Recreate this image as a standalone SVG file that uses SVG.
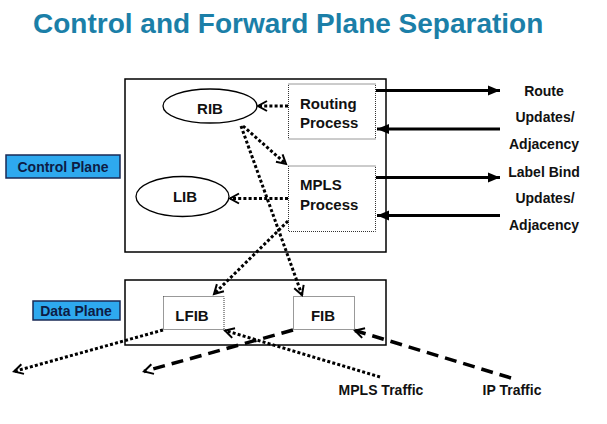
<svg xmlns="http://www.w3.org/2000/svg" width="607" height="424" viewBox="0 0 607 424">
  <defs>
    <marker id="open" markerUnits="userSpaceOnUse" markerWidth="16" markerHeight="16" viewBox="-13 -8 16 16" refX="0" refY="0" orient="auto">
      <path d="M-9,-5 L0,0 L-9,5" fill="none" stroke="#000" stroke-width="2" stroke-dasharray="none"/>
    </marker>
    <marker id="solid" markerUnits="userSpaceOnUse" markerWidth="16" markerHeight="16" viewBox="-14 -8 16 16" refX="0" refY="0" orient="auto">
      <path d="M-12,-5 L0,0 L-12,5 Z" fill="#000" stroke="none"/>
    </marker>
  </defs>
  <style>
    text { font-family: "Liberation Sans", Arial, sans-serif; font-weight: bold; fill: #111; }
    .title { font-size: 28px; fill: #1b7fa8; }
    .lbl { font-size: 14px; fill: #0d1c45; text-anchor: middle; }
    .node { font-size: 15px; }
    .side { font-size: 14px; text-anchor: middle; }
    .plane { fill: #fff; stroke: #000; stroke-width: 1.5; }
    .tag { fill: #2ea9ef; stroke: #1a2a55; stroke-width: 1.5; }
    .dbox { fill: #fff; stroke: #333; stroke-width: 1; stroke-dasharray: 1 1; }
    .ell { fill: #fff; stroke: #000; stroke-width: 1.3; }
    .dot { fill: none; stroke: #000; stroke-width: 3; stroke-dasharray: 3 2.2; marker-end: url(#open); }
    .dash { fill: none; stroke: #000; stroke-width: 3.5; stroke-dasharray: 12 7; marker-end: url(#open); }
    .sol { fill: none; stroke: #000; stroke-width: 3; marker-end: url(#solid); }
  </style>
  <rect width="607" height="424" fill="#fff"/>
  <text class="title" x="33" y="33">Control and Forward Plane Separation</text>

  <g id="control-plane">
    <rect class="plane" x="125" y="79" width="261" height="173"/>
  </g>
  <g id="data-plane">
    <rect class="plane" x="125" y="280" width="261" height="65"/>
  </g>
  <g id="control-plane-label">
    <rect class="tag" x="6" y="155" width="114" height="23"/>
    <text class="lbl" x="63" y="171.5">Control Plane</text>
  </g>
  <g id="data-plane-label">
    <rect class="tag" x="33" y="301" width="87" height="19"/>
    <text class="lbl" x="76" y="316">Data Plane</text>
  </g>

  <g id="rib">
    <ellipse class="ell" cx="210" cy="106" rx="47" ry="17"/>
    <text class="node" x="210" y="114" text-anchor="middle">RIB</text>
  </g>
  <g id="lib">
    <ellipse class="ell" cx="182.5" cy="196.5" rx="46.5" ry="20"/>
    <text class="node" x="185" y="201.5" text-anchor="middle">LIB</text>
  </g>
  <g id="routing-process">
    <rect class="dbox" x="288.5" y="84" width="87" height="55"/>
    <text class="node" x="300" y="109">Routing</text>
    <text class="node" x="300" y="127.5">Process</text>
  </g>
  <g id="mpls-process">
    <rect class="dbox" x="288.5" y="166" width="87" height="65.5"/>
    <text class="node" x="300" y="190">MPLS</text>
    <text class="node" x="300" y="209.5">Process</text>
  </g>
  <g id="lfib">
    <rect class="dbox" x="163.5" y="296.5" width="60.5" height="33"/>
    <text class="node" x="192" y="320.5" text-anchor="middle">LFIB</text>
  </g>
  <g id="fib">
    <rect class="dbox" x="293.5" y="296.5" width="61" height="33"/>
    <text class="node" x="323" y="320.5" text-anchor="middle">FIB</text>
  </g>

  <g id="side-labels">
    <text class="side" x="544" y="96">Route</text>
    <text class="side" x="545" y="122">Updates/</text>
    <text class="side" x="544" y="148.5">Adjacency</text>
    <text class="side" x="544" y="177">Label Bind</text>
    <text class="side" x="545" y="203">Updates/</text>
    <text class="side" x="544" y="229.5">Adjacency</text>
    <text class="side" x="381" y="395">MPLS Traffic</text>
    <text class="side" x="512" y="395">IP Traffic</text>
  </g>

  <g id="connectors">
    <line class="dot" x1="288" y1="106" x2="258" y2="106"/>
    <line class="dot" x1="288" y1="198.5" x2="230" y2="198.5"/>
    <line class="dot" x1="243" y1="126" x2="286" y2="164"/>
    <line class="dot" x1="241" y1="126" x2="302" y2="295"/>
    <line class="dot" x1="288" y1="221" x2="214" y2="294"/>
    <line class="dot" x1="163" y1="330" x2="14" y2="371.5"/>
    <line class="dot" x1="380" y1="377" x2="225" y2="330.5"/>
    <line class="dash" x1="293" y1="330" x2="144" y2="371.5"/>
    <line class="dash" x1="511" y1="378" x2="355" y2="330.5"/>
    <line class="sol" x1="376" y1="90.5" x2="500" y2="90.5"/>
    <line class="sol" x1="500" y1="129" x2="377" y2="129"/>
    <line class="sol" x1="376" y1="177.5" x2="500" y2="177.5"/>
    <line class="sol" x1="500" y1="215.5" x2="377" y2="215.5"/>
  </g>
</svg>
